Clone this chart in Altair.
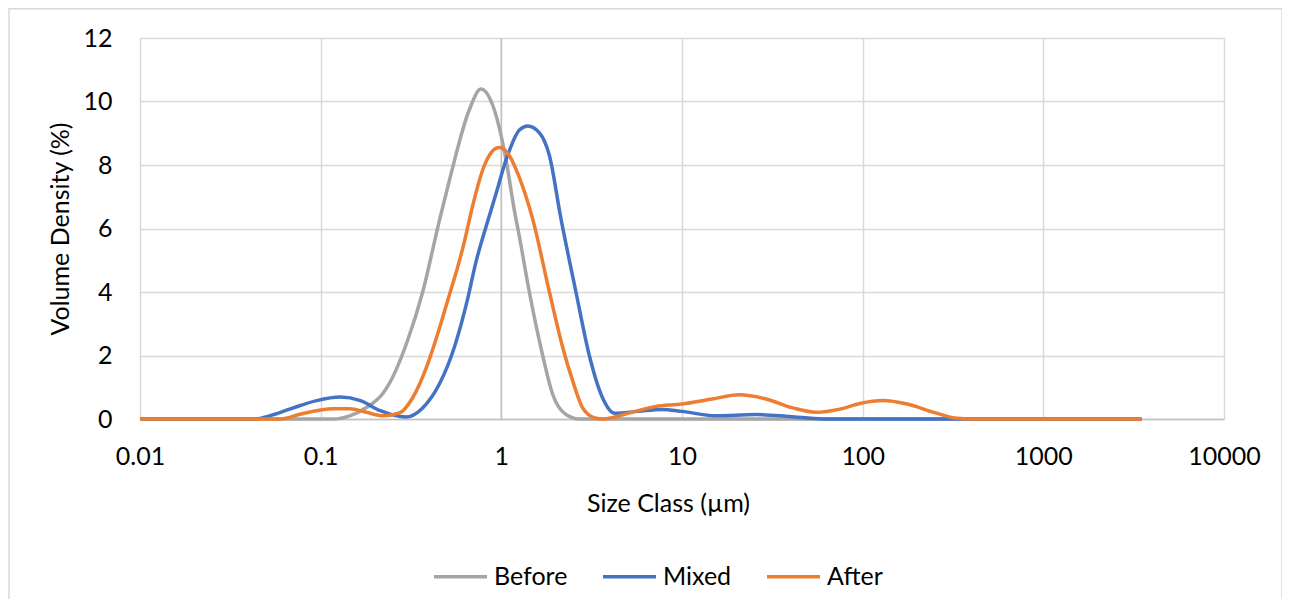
import altair as alt
import pandas as pd

series_names = ["Before", "Mixed", "After"]
series_colors = ["#A5A5A5", "#4472C4", "#ED7D31"]

before_size = [0.01, 0.117, 0.145, 0.179, 0.222, 0.24, 0.303, 0.367, 0.454, 0.515,
               0.665, 0.77, 0.914, 1.062, 1.18, 1.259, 1.429, 1.694, 1.923, 2.28,
               2.69, 3500]
before_vol = [0, 0, 0.1, 0.36, 0.82, 1.12, 2.48, 4.0, 6.25, 7.5,
              9.74, 10.39, 9.74, 8.16, 6.58, 5.74, 4.0, 2.0, 0.78, 0.14,
              0, 0]

mixed_size = [0.01, 0.044, 0.052, 0.068, 0.095, 0.128, 0.166, 0.214, 0.295, 0.367,
              0.454, 0.55, 0.652, 0.724, 0.822, 0.935, 1.062, 1.259, 1.4, 1.622,
              1.845, 2.138, 2.588, 3.069, 3.631, 4.246, 5.7, 7.73, 10, 15.3, 25.7,
              39.4, 60, 3500]
mixed_vol = [0, 0, 0.1, 0.32, 0.58, 0.69, 0.58, 0.26, 0.06, 0.35,
             1.1, 2.27, 3.8, 4.95, 6.05, 7.1, 8.16, 9.1, 9.23, 9.02,
             8.3, 6.31, 4.0, 2.0, 0.67, 0.18, 0.24, 0.3, 0.24, 0.1, 0.14,
             0.08, 0, 0]

after_size = [0.01, 0.06, 0.078, 0.117, 0.145, 0.179, 0.222, 0.273, 0.323, 0.391,
              0.454, 0.515, 0.573, 0.624, 0.693, 0.789, 0.881, 0.975, 1.107, 1.259,
              1.489, 1.845, 2.183, 2.483, 2.818, 3.311, 3.631, 5.26, 7.1, 10, 14.7,
              20.7, 29.2, 41, 55.3, 74.8, 96.6, 130, 176, 248, 334, 400, 3500]
after_vol = [0, 0, 0.16, 0.32, 0.32, 0.21, 0.1, 0.19, 0.67, 1.73,
             2.85, 3.9, 4.78, 5.58, 6.7, 7.85, 8.4, 8.55, 8.3, 7.6,
             6.31, 4.0, 2.27, 1.2, 0.35, 0.03, 0, 0.21, 0.39, 0.47, 0.63,
             0.76, 0.63, 0.35, 0.21, 0.31, 0.49, 0.58, 0.47, 0.21, 0.02, 0, 0]

x_ticks = [0.01, 0.1, 1, 10, 100, 1000, 10000]
y_ticks = [0, 2, 4, 6, 8, 10, 12]

rows = []
for name, sizes, vols in [("Before", before_size, before_vol),
                          ("Mixed", mixed_size, mixed_vol),
                          ("After", after_size, after_vol)]:
    for s, v in zip(sizes, vols):
        rows.append({"Sample": name, "Size": s, "Volume": v})
df = pd.DataFrame(rows)

W, H = 1084, 381
FONT = "Lato"
FS = 25

x_scale = alt.Scale(type="log", domain=[0.01, 10000], nice=False)
y_scale = alt.Scale(domain=[0, 12], nice=False)

frame = alt.Chart(pd.DataFrame({"a": [0]})).mark_rect(
    fillOpacity=0, stroke="#D9D9D9", strokeWidth=1.5
).encode(
    x=alt.value(-131), x2=alt.value(1142), y=alt.value(-29.25), y2=alt.value(700)
)

axis_rule = alt.Chart(pd.DataFrame({"x": [1]})).mark_rule(
    color="#BFBFBF", strokeWidth=1.5
).encode(
    x=alt.X("x:Q", scale=x_scale),
    y=alt.value(0), y2=alt.value(H)
)

lines = alt.Chart(df).mark_line(strokeWidth=3.5, interpolate="monotone").encode(
    x=alt.X("Size:Q", scale=x_scale,
            axis=alt.Axis(values=x_ticks, format="~g", title="Size Class (µm)",
                          grid=True, gridColor="#D9D9D9", gridWidth=1.5,
                          domain=True, domainColor="#BFBFBF", domainWidth=1.5,
                          ticks=False, tickSize=0,
                          labelFont=FONT, labelFontSize=FS, labelColor="#000000",
                          labelBaseline="middle", labelPadding=37,
                          labelFlush=False, labelOverlap=False,
                          titleFont=FONT, titleFontSize=FS, titleFontWeight="normal",
                          titleColor="#000000", titleX=528, titleY=84,
                          titleBaseline="middle", titleAlign="center")),
    y=alt.Y("Volume:Q", scale=y_scale,
            axis=alt.Axis(values=y_ticks, title="Volume Density (%)",
                          grid=True, gridColor="#D9D9D9", gridWidth=1.5,
                          domain=False, ticks=False, tickSize=0,
                          labelFont=FONT, labelFontSize=FS, labelColor="#000000",
                          labelBaseline="middle", labelPadding=28, labelFlush=False,
                          titleFont=FONT, titleFontSize=FS, titleFontWeight="normal",
                          titleColor="#000000", titleX=-80, titleY=H / 2,
                          titleAngle=270, titleBaseline="middle", titleAlign="center")),
    color=alt.Color("Sample:N", sort=series_names,
                    scale=alt.Scale(domain=series_names, range=series_colors),
                    legend=alt.Legend(title=None, orient="none", direction="horizontal",
                                      legendX=292, legendY=510,
                                      symbolType="stroke", symbolSize=2809,
                                      symbolStrokeWidth=3.5, labelOffset=5,
                                      columnPadding=28,
                                      labelFont=FONT, labelFontSize=FS,
                                      labelColor="#000000")),
)

chart = alt.layer(frame, axis_rule, lines).properties(
    width=W, height=H,
    padding={"left": 132, "top": 30, "right": 58, "bottom": 180},
    autosize=alt.AutoSizeParams(type="none"),
).configure_view(stroke=None)

chart.save("out.html", embed_options={"renderer": "svg", "actions": False})
